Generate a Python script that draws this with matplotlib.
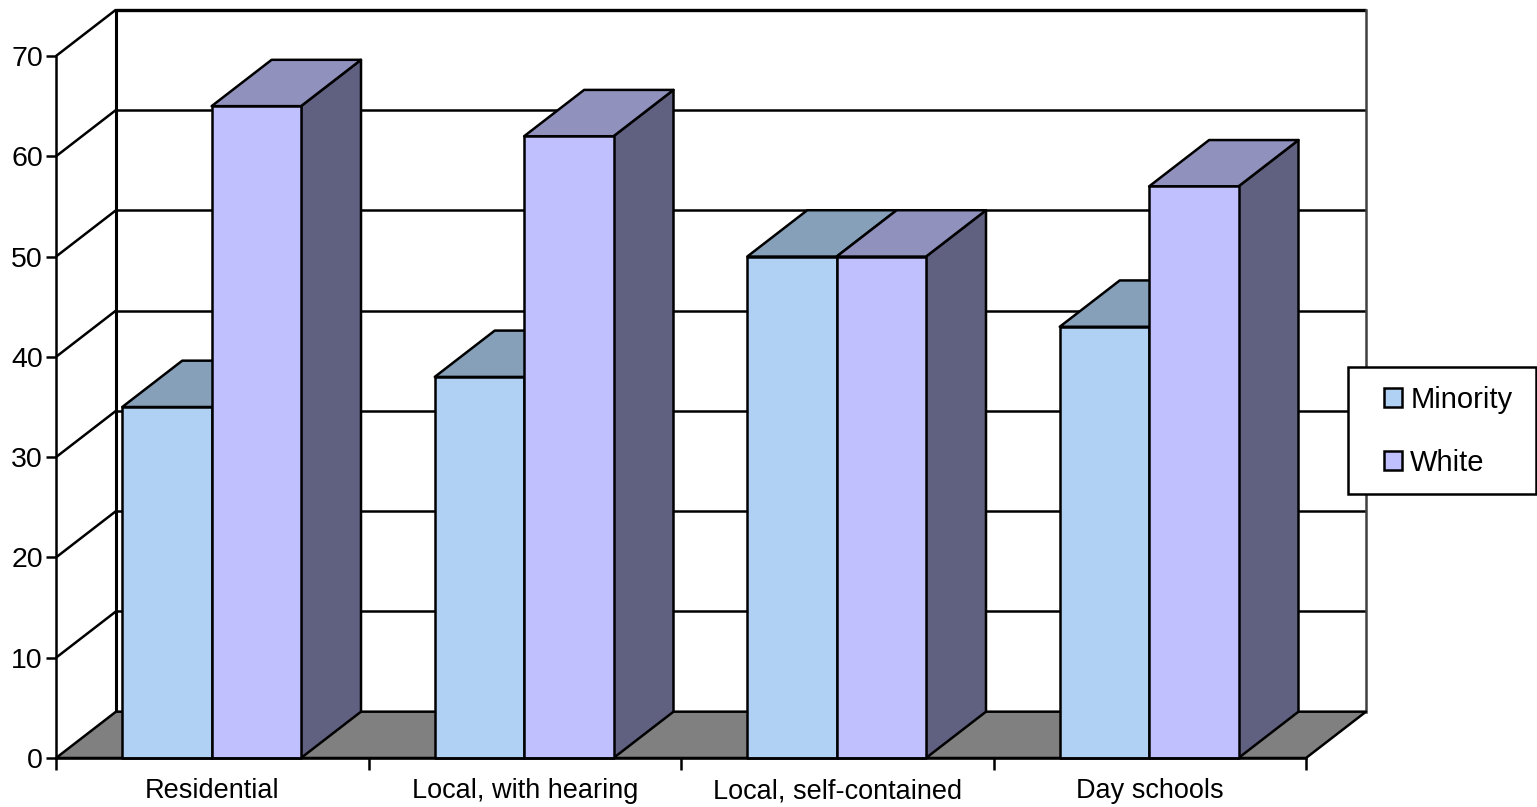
import matplotlib
matplotlib.use('Agg')
import matplotlib.pyplot as plt
from matplotlib.patches import Patch, Polygon, Rectangle

categories = ['Residential', 'Local, with hearing', 'Local, self-contained', 'Day schools']
minority = [35, 38, 50, 43]
white = [65, 62, 50, 57]
y_ticks = [0, 10, 20, 30, 40, 50, 60, 70]

# oblique projection of the depth axis, in data units
DEPTH_X = 0.192
DEPTH_Y = 4.62
BAR_START = 0.212
BAR_WIDTH = 0.286
LW = 1.8

W, H = 1537, 807
fig = plt.figure(figsize=(W / 100, H / 100), dpi=100)
plt.rcParams['font.family'] = ['Liberation Sans', 'DejaVu Sans']
ax = fig.add_axes([56 / W, 1 - 758 / H, 1250 / W, 702 / H])
ax.set_xlim(0, len(categories))
ax.set_ylim(0, 70)
ax.patch.set_visible(False)


def add_poly(points, color, z, lw=LW):
    ax.add_patch(Polygon(points, closed=True, facecolor=color, edgecolor='black',
                         linewidth=lw, zorder=z, clip_on=False, joinstyle='round'))


def draw_bar(x, value, front, top, side, z):
    x2 = x + BAR_WIDTH
    add_poly([(x2, 0), (x2 + DEPTH_X, DEPTH_Y), (x2 + DEPTH_X, value + DEPTH_Y), (x2, value)], side, z)
    add_poly([(x, value), (x + DEPTH_X, value + DEPTH_Y), (x2 + DEPTH_X, value + DEPTH_Y), (x2, value)], top, z)
    add_poly([(x, 0), (x2, 0), (x2, value), (x, value)], front, z)


n = len(categories)
top_val = y_ticks[-1]

# floor
add_poly([(0, 0), (DEPTH_X, DEPTH_Y), (n + DEPTH_X, DEPTH_Y), (n, 0)], '#808080', 2)

# back wall and side wall grid lines
for v in y_ticks[1:]:
    back = v + DEPTH_Y
    ax.plot([0, DEPTH_X], [v, back], color='black', lw=LW, zorder=1, clip_on=False, solid_capstyle='butt')
    ax.plot([DEPTH_X, n + DEPTH_X], [back, back], color='black', lw=LW if v < 70 else 2.4,
            zorder=1, clip_on=False, solid_capstyle='butt')
ax.plot([DEPTH_X, DEPTH_X], [DEPTH_Y, top_val + DEPTH_Y], color='black', lw=2.2, zorder=1, clip_on=False)
ax.plot([n + DEPTH_X, n + DEPTH_X], [DEPTH_Y, top_val + DEPTH_Y], color='#404040', lw=LW, zorder=1, clip_on=False)

for i in range(n):
    x = i + BAR_START
    draw_bar(x, minority[i], '#B0D0F4', '#86A0BA', '#5D7590', 3 + i * 2)
    draw_bar(x + BAR_WIDTH, white[i], '#C0C0FF', '#9191BD', '#606080', 4 + i * 2)

for name in ['top', 'right']:
    ax.spines[name].set_visible(False)
for name in ['left', 'bottom']:
    ax.spines[name].set_linewidth(LW)
    ax.spines[name].set_zorder(20)

ax.set_yticks(y_ticks)
ax.set_xticks(range(n + 1))
ax.set_xticklabels([])
ax.set_xticks([i + 0.5 for i in range(n)], minor=True)
ax.set_xticklabels(categories, minor=True, fontsize=19.5)
ax.tick_params(axis='x', which='major', length=8.5, width=LW, direction='out')
ax.tick_params(axis='x', which='minor', length=0, pad=14.5)
ax.tick_params(axis='y', length=7, width=LW, direction='out', labelsize=20.5, pad=2.5)

# legend box runs out to the right edge of the figure
fig.add_artist(Rectangle((1348 / W, 1 - 494 / H), 188 / W, 127 / H, transform=fig.transFigure,
                         facecolor='white', edgecolor='black', linewidth=LW, zorder=30))
handles = [Patch(facecolor='#B0D0F4', edgecolor='black', linewidth=LW, label='Minority'),
           Patch(facecolor='#C0C0FF', edgecolor='black', linewidth=LW, label='White')]
leg = fig.legend(handles=handles, loc='upper left', bbox_to_anchor=(1384 / W, 1 - 386 / H), frameon=False,
                 fontsize=21, borderpad=0, borderaxespad=0, handlelength=0.6, handleheight=0.6,
                 handletextpad=0.3, labelspacing=1.2)
leg.set_zorder(31)

fig.savefig('out.png', dpi=100)
